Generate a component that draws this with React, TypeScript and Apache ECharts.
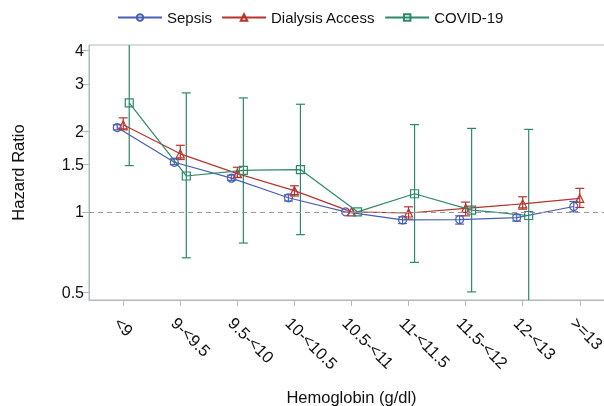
import React, { useEffect, useRef } from "react";
import * as echarts from "echarts";

const categories = ["<9", "9-<9.5", "9.5-<10", "10-<10.5", "10.5-<11", "11-<11.5", "11.5-<12", "12-<13", ">=13"];
const yTickValues = [0.5, 1, 1.5, 2, 3, 4];

const sepsisHR = [2.06, 1.53, 1.335, 1.128, 1.0, 0.933, 0.936, 0.952, 1.047];
const sepsisLow = [2.02, 1.5, 1.31, 1.097, null, 0.904, 0.9, 0.923, 1.0];
const sepsisHigh = [2.11, 1.576, 1.37, 1.158, null, 0.958, 0.966, 0.977, 1.093];

const dialysisHR = [2.11, 1.645, 1.388, 1.199, 1.0, 0.99, 1.03, 1.071, 1.122];
const dialysisLow = [2.02, 1.566, 1.345, 1.145, null, 0.939, 0.966, 1.023, 1.038];
const dialysisHigh = [2.24, 1.77, 1.466, 1.25, null, 1.044, 1.087, 1.138, 1.223];

const covidHR = [2.546, 1.36, 1.428, 1.437, 1.0, 1.168, 1.015, 0.969, null];
const covidLow = [1.487, 0.674, 0.765, 0.822, null, 0.648, 0.503, 0.44, null];
const covidHigh = [4.6, 2.775, 2.658, 2.517, null, 2.113, 2.046, 2.029, null];

const FONT = "'Liberation Sans', Arial, sans-serif";
const AXIS_GREY = "#b3b9bd";

type Num = number | null;

function lineData(hr: Num[], off: number) {
  const out: number[][] = [];
  hr.forEach((v, i) => {
    if (v != null) out.push([i + off, Math.log(v)]);
  });
  return out;
}

function ciData(lo: Num[], hi: Num[], off: number) {
  const out: number[][] = [];
  lo.forEach((v, i) => {
    const h = hi[i];
    if (v != null && h != null) out.push([i + off, Math.log(v), Math.log(h)]);
  });
  return out;
}

function errorBarSeries(name: string, color: string, data: number[][]) {
  return {
    type: "custom",
    name,
    data,
    encode: { x: 0, y: [1, 2] },
    z: 3,
    silent: true,
    renderItem: (params: any, api: any) => {
      const x = api.value(0);
      const lo = api.value(1);
      const hi = api.value(2);
      const pLo = api.coord([x, lo]);
      const pHi = api.coord([x, hi]);
      const cs = params.coordSys;
      const top = cs.y;
      const bottom = cs.y + cs.height;
      const yHi = Math.max(pHi[1], top);
      const yLo = Math.min(pLo[1], bottom);
      const px = pLo[0];
      const hw = 4.5;
      const style = { stroke: color, lineWidth: 1.2, fill: null };
      const children: any[] = [
        { type: "line", shape: { x1: px, y1: yHi, x2: px, y2: yLo }, style },
      ];
      if (pHi[1] >= top) children.push({ type: "line", shape: { x1: px - hw, y1: pHi[1], x2: px + hw, y2: pHi[1] }, style });
      if (pLo[1] <= bottom) children.push({ type: "line", shape: { x1: px - hw, y1: pLo[1], x2: px + hw, y2: pLo[1] }, style });
      return { type: "group", children };
    },
  };
}

function pointSeries(name: string, color: string, symbol: string, data: number[][], extra: any = {}) {
  return {
    type: "line",
    name,
    data,
    symbol,
    symbolSize: 8,
    showSymbol: true,
    z: 4,
    lineStyle: { color, width: 1.2 },
    itemStyle: { color: "rgba(255,255,255,0)", borderColor: color, borderWidth: 1.2 },
    emphasis: { disabled: true },
    ...extra,
  };
}

export default function App() {
  const ref = useRef<HTMLDivElement>(null);

  useEffect(() => {
    if (!ref.current) return;
    const chart = echarts.init(ref.current, null, { renderer: "svg" });
    const blue = "#4a5fb4";
    const red = "#b8332b";
    const green = "#2b8a6a";
    const off = 0.105;

    const yMin = -0.7567;
    const yMax = 1.4316;

    const option: any = {
      animation: false,
      textStyle: { fontFamily: FONT },
      legend: {
        data: ["Sepsis", "Dialysis Access", "COVID-19"],
        top: 5,
        left: 112,
        itemWidth: 44,
        itemHeight: 8,
        itemGap: 9,
        textStyle: { fontSize: 15, color: "#111", fontFamily: FONT },
      },
      grid: { left: 89, top: 45, width: 525, height: 255, show: true, borderColor: AXIS_GREY, borderWidth: 1, containLabel: false, outerBoundsMode: "none" },
      xAxis: {
        type: "value",
        min: -0.6,
        max: 8.6,
        name: "Hemoglobin (g/dl)",
        nameLocation: "middle",
        nameGap: 88,
        nameTextStyle: { fontSize: 16.5, color: "#111", fontFamily: FONT },
        splitLine: { show: false },
        axisLine: { show: true, onZero: false, lineStyle: { color: AXIS_GREY, width: 1 } },
        axisTick: { show: true, length: 6, lineStyle: { color: AXIS_GREY }, customValues: categories.map((_, i) => i) },
        axisLabel: {
          rotate: -45,
          margin: 14,
          verticalAlign: "top",
          fontSize: 16.5,
          color: "#111",
          fontFamily: FONT,
          customValues: categories.map((_, i) => i),
          formatter: (v: number) => categories[Math.round(v)] ?? "",
        },
      },
      yAxis: {
        type: "value",
        min: yMin,
        max: yMax,
        name: "Hazard Ratio",
        nameLocation: "middle",
        nameGap: 63,
        nameRotate: 90,
        nameTextStyle: { fontSize: 16.5, color: "#111", fontFamily: FONT },
        splitLine: { show: false },
        axisLine: { show: true, onZero: false, lineStyle: { color: AXIS_GREY, width: 1 } },
        axisTick: { show: true, length: 7, lineStyle: { color: AXIS_GREY }, customValues: yTickValues.map((v) => Math.log(v)) },
        axisLabel: {
          margin: 5,
          fontSize: 16,
          color: "#111",
          fontFamily: FONT,
          customValues: yTickValues.map((v) => Math.log(v)),
          formatter: (v: number) => String(Math.round(Math.exp(v) * 10) / 10),
        },
      },
      series: [
        errorBarSeries("Sepsis CI", blue, ciData(sepsisLow, sepsisHigh, -off)),
        errorBarSeries("Dialysis CI", red, ciData(dialysisLow, dialysisHigh, 0)),
        errorBarSeries("COVID CI", green, ciData(covidLow, covidHigh, off)),
        pointSeries("Sepsis", blue, "circle", lineData(sepsisHR, -off), {
          markLine: {
            silent: true,
            symbol: "none",
            label: { show: false },
            lineStyle: { color: "#9a9a9a", type: [5, 4], width: 1 },
            data: [{ yAxis: 0 }],
          },
        }),
        pointSeries("Dialysis Access", red, "triangle", lineData(dialysisHR, 0)),
        pointSeries("COVID-19", green, "rect", lineData(covidHR, off)),
      ],
    };
    chart.setOption(option);
    return () => chart.dispose();
  }, []);

  return <div ref={ref} style={{ position: "fixed", left: 0, top: 0, width: 604, height: 406 }} />;
}
